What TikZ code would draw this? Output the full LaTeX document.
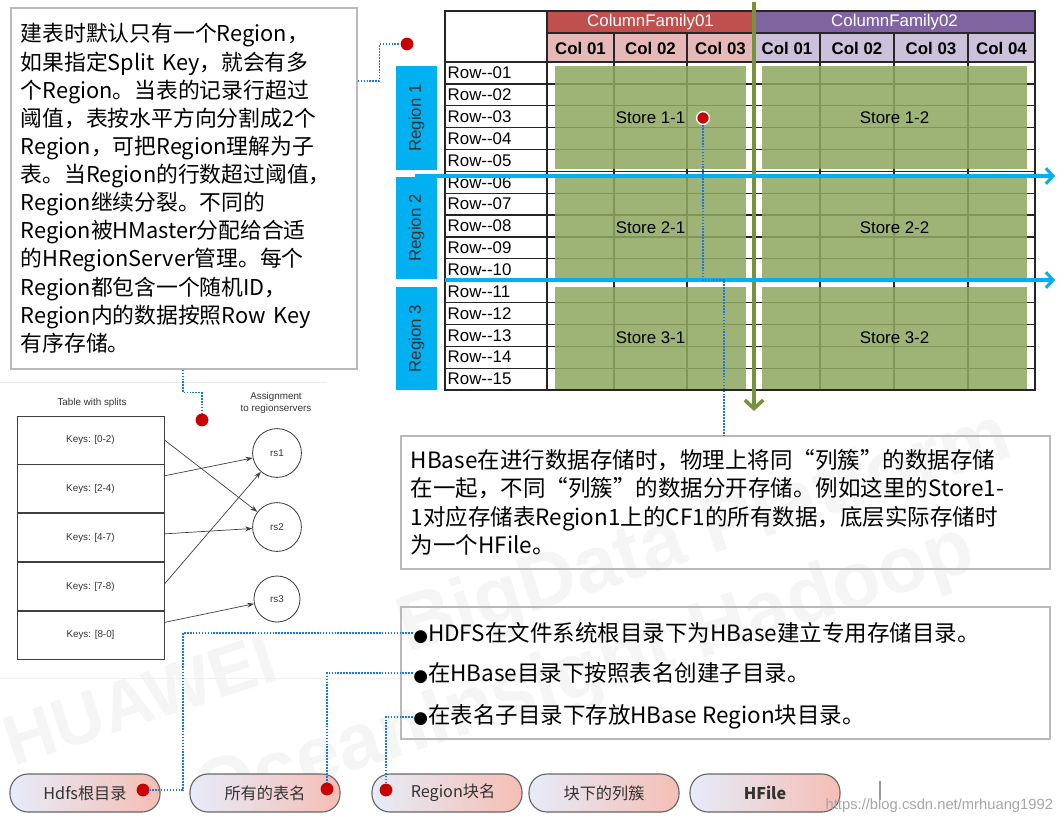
\documentclass[tikz,border=0pt]{standalone}
\usepackage{fontspec}
\setmainfont{Liberation Sans}
\newfontfamily\cjk{Noto Sans CJK SC}
\newfontfamily\sym{DejaVu Sans}
\usetikzlibrary{arrows.meta, positioning, calc, backgrounds}

\definecolor{boxgray}{RGB}{185,185,185}
\definecolor{cfred}{RGB}{192,80,77}
\definecolor{cfpurple}{RGB}{128,100,162}
\definecolor{colpink}{RGB}{230,185,184}
\definecolor{collav}{RGB}{204,193,218}
\definecolor{storegreen}{RGB}{143,168,96}
\definecolor{regblue}{RGB}{0,176,240}
\definecolor{splitgreen}{RGB}{118,146,60}
\definecolor{linkblue}{RGB}{25,120,230}
\definecolor{dotred}{RGB}{200,0,0}
\definecolor{pillblue}{RGB}{230,236,250}
\definecolor{pillpink}{RGB}{245,190,180}

\begin{document}
\begin{tikzpicture}[
    x=0.025cm, y=-0.025cm,
    infobox/.style={draw=boxgray, line width=1.1pt, anchor=north west, inner xsep=0.25cm, align=left, font=\cjk\fontsize{16pt}{20pt}\selectfont},
    bulletline/.style={anchor=west, inner sep=0pt, font=\cjk\fontsize{16pt}{20pt}\selectfont},
    rowlab/.style={anchor=west, inner sep=1pt, font=\fontsize{12pt}{14pt}\selectfont},
    colhead/.style={inner sep=0pt, font=\fontsize{12pt}{14pt}\selectfont\bfseries},
    cfhead/.style={inner sep=0pt, text=white, font=\fontsize{12pt}{14pt}\selectfont},
    gridline/.style={draw=black!85, line width=0.9pt},
    store/.style={fill=storegreen, fill opacity=0.86, text opacity=1, inner sep=0pt, font=\fontsize{12pt}{14pt}\selectfont},
    regbox/.style={fill=regblue, rotate=90, inner sep=0pt, minimum height=1.025cm, text=black!80, font=\fontsize{12pt}{14pt}\selectfont},
    cutarrow/.style={draw=regblue, line width=2.2pt, -{Straight Barb[length=5pt, width=11pt]}},
    splitarrow/.style={draw=splitgreen, line width=2.6pt, -{Straight Barb[length=6pt, width=13pt]}},
    reddot/.style={circle, fill=dotred, inner sep=0pt, minimum size=0.32cm},
    link/.style={draw=linkblue, line width=1.2pt, dash pattern=on 1.2pt off 0.9pt},
    keybox/.style={draw=black!75, fill=white, line width=0.6pt, minimum width=3.675cm, minimum height=1.2cm, inner sep=0pt, font=\fontsize{7pt}{8pt}\selectfont, text=black!80},
    rsnode/.style={circle, draw=black!75, fill=white, line width=0.6pt, minimum size=1.22cm, inner sep=0pt, font=\fontsize{7pt}{8pt}\selectfont, text=black!80},
    smalllab/.style={font=\fontsize{7pt}{8.5pt}\selectfont, text=black!80, align=center, inner sep=0pt},
    keyarrow/.style={draw=black!75, line width=0.5pt, -{Stealth[length=5pt, width=3.5pt]}},
    pill/.style={draw=black!60, line width=0.8pt, rounded corners=0.45cm, minimum width=3.75cm, minimum height=0.95cm, left color=pillblue, right color=pillpink, font=\cjk\fontsize{11.5pt}{13pt}\selectfont, text=black!80},
    wmark/.style={rotate=18, text=black!4, font=\fontsize{56pt}{60pt}\selectfont\bfseries, inner sep=0pt}
]
\fill[white] (0,0) rectangle (1063,824);
\useasboundingbox (0,0) rectangle (1063,824);

% faint background marks
\node[wmark] (wm1) at (705,535) {BigData Platform};
\node[wmark] (wm2) at (585,675) {OceanInsight Hadoop};
\node[wmark, font=\fontsize{50pt}{54pt}\selectfont\bfseries] (wm3) at (140,700) {HUAWEI};
\draw[black!8] (0,382) -- (327,382);
\draw[black!6] (0,678) -- (400,678);

% left note
\node[infobox, text width=8.15cm, minimum height=9.025cm, font=\cjk\fontsize{15.5pt}{20pt}\selectfont] (lbox) at (10,7) {建表时默认只有一个Region，\\如果指定Split Key，就会有多\\个Region。当表的记录行超过\\阈值，表按水平方向分割成2个\\Region，可把Region理解为子\\表。当Region的行数超过阈值，\\Region继续分裂。不同的\\Region被HMaster分配给合适\\的HRegionServer管理。每个\\Region都包含一个随机ID，\\Region内的数据按照Row Key\\有序存储。};

\node[reddot] (d0) at (407,44) {};
\node[reddot] (dsp) at (202,420) {};
\draw[link] ($(lbox.north east)+(0,74)$) -- ++(22,0) |- (d0);
\draw[link] ($(lbox.south west)+(173,0)$) -- ++(0,23) -| (dsp);

% table header
\fill[cfred] (547,11) rectangle (754,33);
\fill[cfpurple] (754,11) rectangle (1035,33);
\fill[colpink] (547,33) rectangle (754,62);
\fill[collav] (754,33) rectangle (1035,62);
\node[cfhead] (cf1) at (650.5,22) {ColumnFamily01};
\node[cfhead] (cf2) at (894.5,22) {ColumnFamily02};
\node[colhead] (c11) at (580.5,48) {Col 01};
\node[colhead] (c12) at (650.5,48) {Col 02};
\node[colhead] (c13) at (720.5,48) {Col 03};
\node[colhead] (c21) at (787,48) {Col 01};
\node[colhead] (c22) at (857,48) {Col 02};
\node[colhead] (c23) at (931,48) {Col 03};
\node[colhead] (c24) at (1001.5,48) {Col 04};

% rows
\foreach \n [count=\i] in {01,02,03,04,05,06,07,08,09,10,11,12,13,14,15}
    \node[rowlab] (row\i) at (446,{62+(\i-0.5)*21.867}) {Row-{}-\n};
\foreach \i in {0,...,15}
    \draw[gridline] (445,{62+\i*21.867}) -- (1035,{62+\i*21.867});
\draw[gridline] (445,11) rectangle (1035,390);
\draw[gridline] (547,11) -- (547,390);
\draw[gridline] (547,33) -- (1035,33);
\draw[gridline] (754,11) -- (754,390);
\foreach \x in {614,687,820,894,968}
    \draw[gridline] (\x,33) -- (\x,390);

% stores
\node[store, minimum width=4.775cm, minimum height=2.575cm] (s11) at (650.5,117.5) {Store 1-1};
\node[store, minimum width=6.625cm, minimum height=2.575cm] (s12) at (894.5,117.5) {Store 1-2};
\node[store, minimum width=4.775cm, minimum height=2.55cm] (s21) at (650.5,228) {Store 2-1};
\node[store, minimum width=6.625cm, minimum height=2.55cm] (s22) at (894.5,228) {Store 2-2};
\node[store, minimum width=4.775cm, minimum height=2.55cm] (s31) at (650.5,338) {Store 3-1};
\node[store, minimum width=6.625cm, minimum height=2.55cm] (s32) at (894.5,338) {Store 3-2};

% regions
\node[regbox, minimum width=2.6cm] (g1) at (416.5,118) {Region 1};
\node[regbox, minimum width=2.55cm] (g2) at (416.5,228) {Region 2};
\node[regbox, minimum width=2.575cm] (g3) at (416.5,338.5) {Region 3};

\coordinate (cut1a) at (415,176);
\coordinate (cut1b) at (1055,176);
\coordinate (cut2a) at (445,280);
\coordinate (cut2b) at (1055,280);
\coordinate (cfa) at (754,2);
\coordinate (cfb) at (754,411);
\draw[splitarrow] (cfa) -- (cfb);
\draw[cutarrow] (cut1a) -- (cut1b);
\draw[cutarrow] (cut2a) -- (cut2b);

% HBase note
\node[infobox, text width=15.725cm, minimum height=3.325cm] (hbox) at (400,435) {HBase在进行数据存储时，物理上将同“列簇”的数据存储\\在一起，不同“列簇”的数据分开存储。例如这里的Store1-\\1对应存储表Region1上的CF1的所有数据，底层实际存储时\\为一个HFile。};

\node[reddot, draw=white, line width=1pt] (dst) at (703,118) {};
\draw[link] (dst.south) -- (dst.south |- cut2a) -| ($(hbox.north west)+(324,0)$);

% splits and assignment
\node[smalllab] (tlab) at (92,403) {Table with splits};
\node[smalllab] (alab) at (276,403) {Assignment\\to regionservers};
\node[keybox] (k1) at (90.5,440) {Keys: [0-2)};
\node[keybox, below=0pt of k1] (k2) {Keys: [2-4)};
\node[keybox, below=0pt of k2] (k3) {Keys: [4-7)};
\node[keybox, below=0pt of k3] (k4) {Keys: [7-8)};
\node[keybox, below=0pt of k4] (k5) {Keys: [8-0]};
\begin{scope}[on background layer]
    \fill[black!40] ($(k1.north west)+(3,3)$) rectangle ($(k5.south east)+(3,3)$);
\end{scope}
\node[rsnode] (rs1) at (277,453) {rs1};
\node[rsnode] (rs2) at (277,527) {rs2};
\node[rsnode, minimum size=1.15cm] (rs3) at (277,599) {rs3};
\draw[keyarrow] (k1.east) -- (rs2);
\draw[keyarrow] (k2.10) -- (rs1);
\draw[keyarrow] (k3.3) -- (rs2);
\draw[keyarrow] (k4.2) -- (rs1);
\draw[keyarrow] (k5.10) -- (rs3);

% directory note
\node[infobox, minimum width=16.225cm, minimum height=3.3cm] (dirbox) at (400,606) {};
\node[bulletline] (b1) at (413,633) {{\sym\fontsize{12pt}{14pt}\selectfont ●}HDFS在文件系统根目录下为HBase建立专用存储目录。};
\node[bulletline] (b2) at (413,673) {{\sym\fontsize{12pt}{14pt}\selectfont ●}在HBase目录下按照表名创建子目录。};
\node[bulletline] (b3) at (413,717) {{\sym\fontsize{12pt}{14pt}\selectfont ●}在表名子目录下存放HBase Region块目录。};

% path pills
\node[pill] (p1) at (85,793) {Hdfs根目录\hspace{0.5cm}};
\node[pill] (p2) at (265,793) {所有的表名\hspace{0.3cm}};
\node[pill] (p3) at (447,793) {\hspace{0.3cm}Region块名};
\node[pill] (p4) at (604,793) {块下的列簇};
\node[pill, font=\cjk\fontsize{11.5pt}{13pt}\selectfont\bfseries] (p5) at (765,793) {HFile};
\node[reddot] (d1) at (143,790) {};
\node[reddot] (d2) at (327,789) {};
\node[reddot] (d3) at (386,790) {};
\draw[link] (b1.west) -| ($(d1)+(40,0)$) -- (d1);
\draw[link] (b2.west) -| (d2);
\draw[link] (b3.west) -| (d3);

\draw[black!40, line width=0.8pt] (880,781) -- (880,800);
\node[anchor=east, text=black!35, font=\fontsize{10.5pt}{12pt}\selectfont] (csdn) at (1058,806) {https://blog.csdn.net/mrhuang1992};
\end{tikzpicture}
\end{document}
